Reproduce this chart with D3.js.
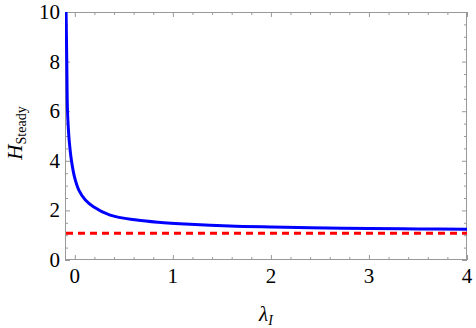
<!DOCTYPE html>
<html><head><meta charset="utf-8">
<script src="https://cdn.jsdelivr.net/npm/d3@7"></script>
<style>body{margin:0;background:#fff}svg{display:block}</style>
</head><body>
<script>
const lambdaI = [-0.089, -0.082, -0.075, -0.065, -0.055, -0.035, -0.004, 0.041, 0.108, 0.19, 0.36, 0.632, 0.85, 1.175, 1.58, 2.0, 2.4, 3.0, 3.5, 4.0];
const hSteady = [10, 8.06, 6.05, 5.25, 4.72, 4.03, 3.36, 2.82, 2.42, 2.15, 1.81, 1.61, 1.52, 1.44, 1.37, 1.33, 1.30, 1.27, 1.255, 1.24];
const refLevel = [1.077];
const xMajor = [0, 1, 2, 3, 4];
const yMajor = [0, 2, 4, 6, 8, 10];
const xDomain = [-0.1, 4];
const yDomain = [0, 10];

const W = 476, H = 328;
const L = 65, R = 467, T = 12, B = 260;
const FONT = '"Liberation Serif"';
const svg = d3.select("body").append("svg").attr("width", W).attr("height", H);
const x = d3.scaleLinear().domain(xDomain).range([L, R]);
const y = d3.scaleLinear().domain(yDomain).range([B, T]);

const xMinor = d3.range(0, 4.0001, 0.2).map(v => +v.toFixed(2)).filter(v => !xMajor.includes(v));
const yMinor = d3.range(0, 10.0001, 0.5).map(v => +v.toFixed(2)).filter(v => !yMajor.includes(v));

svg.append("defs").append("clipPath").attr("id", "clip")
  .append("rect").attr("x", L).attr("y", T).attr("width", R - L).attr("height", B - T);

const tickColor = "#999";
const g = svg.append("g");
function axisSet(axisGen, transform, vals, size) {
  const a = g.append("g").attr("transform", transform)
    .call(axisGen.tickValues(vals).tickSize(size).tickFormat(""));
  a.select(".domain").remove();
  a.selectAll("line").attr("stroke", tickColor).attr("stroke-width", 1);
}
axisSet(d3.axisTop(x), `translate(0,${B})`, xMajor, 5);
axisSet(d3.axisTop(x), `translate(0,${B})`, xMinor, 3);
axisSet(d3.axisBottom(x), `translate(0,${T})`, xMajor, 5);
axisSet(d3.axisBottom(x), `translate(0,${T})`, xMinor, 3);
axisSet(d3.axisRight(y), `translate(${L},0)`, yMajor, 5);
axisSet(d3.axisRight(y), `translate(${L},0)`, yMinor, 3);
axisSet(d3.axisLeft(y), `translate(${R},0)`, yMajor, 5);
axisSet(d3.axisLeft(y), `translate(${R},0)`, yMinor, 3);

g.append("rect").attr("x", L + 0.5).attr("y", T + 0.5).attr("width", R - L - 1).attr("height", B - T - 1)
  .attr("fill", "none").attr("stroke", tickColor).attr("stroke-width", 1);

// tick labels
svg.append("g").selectAll("text").data(xMajor).join("text")
  .attr("x", d => x(d)).attr("y", 283)
  .attr("text-anchor", "middle").style("font-family", FONT).style("font-size", "21px").attr("fill", "#000")
  .text(d => d);
svg.append("g").selectAll("text").data(yMajor).join("text")
  .attr("x", 60).attr("y", d => y(d)).attr("dy", "0.33em")
  .attr("text-anchor", "end").style("font-family", FONT).style("font-size", "21px").attr("fill", "#000")
  .text(d => d);

// axis titles
const xt = svg.append("text").attr("x", 266).attr("y", 321).attr("text-anchor", "middle")
  .style("font-family", FONT).style("font-size", "21px").attr("fill", "#000");
xt.append("tspan").attr("font-style", "italic").text("λ");
xt.append("tspan").attr("font-style", "italic").style("font-size", "14px").attr("dy", 4).text("I");

const yt = svg.append("text").attr("transform", `translate(22,${(T + B) / 2 - 3}) rotate(-90)`)
  .attr("text-anchor", "middle").style("font-family", FONT).style("font-size", "21px").attr("fill", "#000");
yt.append("tspan").attr("font-style", "italic").text("H");
yt.append("tspan").style("font-size", "14px").attr("dy", 4).text("Steady");

// data
const plot = svg.append("g").attr("clip-path", "url(#clip)");
const pts = lambdaI.map((v, i) => [v, hSteady[i]]);
plot.append("path").datum(pts)
  .attr("d", d3.line().x(d => x(d[0])).y(d => y(d[1])).curve(d3.curveCatmullRom.alpha(0.5)))
  .attr("fill", "none").attr("stroke", "#0000ff").attr("stroke-width", 3);

plot.selectAll(".ref").data(refLevel).join("line")
  .attr("x1", x(xDomain[0]) + 1).attr("x2", x(xDomain[1]))
  .attr("y1", d => y(d)).attr("y2", d => y(d))
  .attr("stroke", "#ff0000").attr("stroke-width", 3).attr("stroke-dasharray", "7,5");
</script>
</body></html>
